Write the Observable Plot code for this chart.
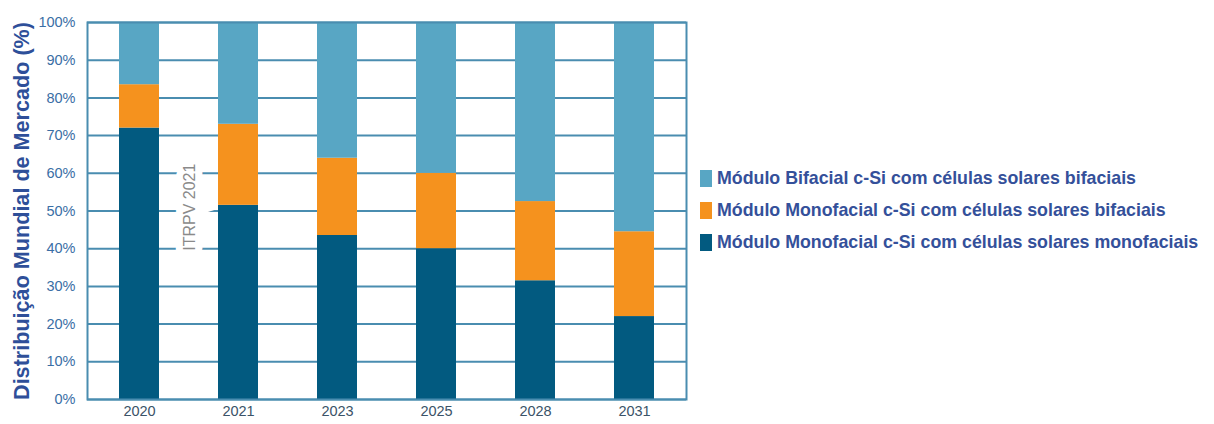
<!DOCTYPE html>
<html>
<head>
<meta charset="utf-8">
<script src="https://cdn.jsdelivr.net/npm/d3@7"></script>
<script src="https://cdn.jsdelivr.net/npm/@observablehq/plot@0.6"></script>
<style>
  body { margin: 0; background: #fff; font-family: "Liberation Sans", Arial, sans-serif; }
  #wrap { position: relative; width: 1214px; height: 424px; }
  #legend { position: absolute; left: 700px; top: 162px; }
  .row { display: flex; align-items: center; height: 32px; }
  .sw { width: 12px; height: 17px; margin-right: 5px; }
  .lab { font-size: 17.8px; font-weight: bold; color: #34509a; white-space: nowrap; }
</style>
</head>
<body>
<div id="wrap"></div>
<script>
const years = ["2020", "2021", "2023", "2025", "2028", "2031"];
const series = [
  "Módulo Monofacial c-Si com células solares monofaciais",
  "Módulo Monofacial c-Si com células solares bifaciais",
  "Módulo Bifacial c-Si com células solares bifaciais"
];
const monoMono = [72, 51.5, 43.5, 40, 31.5, 22];
const monoBi = [11.5, 21.5, 20.5, 20, 21, 22.5];
const biBi = [16.5, 27, 36, 40, 47.5, 55.5];
const colors = ["#025a80", "#f5921e", "#58a6c4"];
const yTicks = [0, 10, 20, 30, 40, 50, 60, 70, 80, 90, 100];
const yTitle = "Distribuição Mundial de Mercado (%)";
const watermark = "ITRPV 2021";
const legendOrder = [2, 1, 0];

const valuesBySeries = [monoMono, monoBi, biBi];
const data = [];
series.forEach((s, si) => years.forEach((y, yi) => data.push({year: y, series: s, value: valuesBySeries[si][yi]})));

const gridColor = "#4a8db0";

const chart = Plot.plot({
  width: 1214,
  height: 424,
  marginLeft: 87,
  marginRight: 528,
  marginTop: 22,
  marginBottom: 25,
  style: {fontFamily: "'Liberation Sans', Arial, sans-serif", background: "#fff"},
  x: {domain: years, paddingInner: 0.6, paddingOuter: 0.3},
  y: {domain: [0, 100]},
  color: {domain: series, range: colors},
  marks: [
    Plot.ruleY(yTicks, {stroke: gridColor, strokeWidth: 2}),
    Plot.text([watermark], {x: () => "2020", y: () => 51, dx: 50, rotate: -90, text: d => d,
      fill: "#8a8a8a", fontSize: 16, stroke: "white", strokeWidth: 14, strokeLinejoin: "miter"}),
    Plot.barY(data, {x: "year", y: "value", fill: "series", order: series}),
    Plot.frame({stroke: gridColor, strokeWidth: 2}),
    Plot.axisY({ticks: yTicks, tickFormat: d => d + "%", tickSize: 0, tickPadding: 12,
      fontSize: 14.5, color: "#3a6ea5", label: null}),
    Plot.axisX({tickSize: 0, tickPadding: 6, fontSize: 14.5, color: "#3b5368", label: null}),
    Plot.text([yTitle], {frameAnchor: "left", dx: -65, rotate: -90, text: d => d, textAnchor: "middle",
      fontSize: 21.6, fontWeight: "bold", fill: "#2e4f99"})
  ]
});

const wrap = document.getElementById("wrap");
wrap.appendChild(chart);

const legend = document.createElement("div");
legend.id = "legend";
legendOrder.forEach(i => {
  const row = document.createElement("div");
  row.className = "row";
  const sw = document.createElement("div");
  sw.className = "sw";
  sw.style.background = colors[i];
  const lab = document.createElement("span");
  lab.className = "lab";
  lab.textContent = series[i];
  row.appendChild(sw);
  row.appendChild(lab);
  legend.appendChild(row);
});
wrap.appendChild(legend);
</script>
</body>
</html>
